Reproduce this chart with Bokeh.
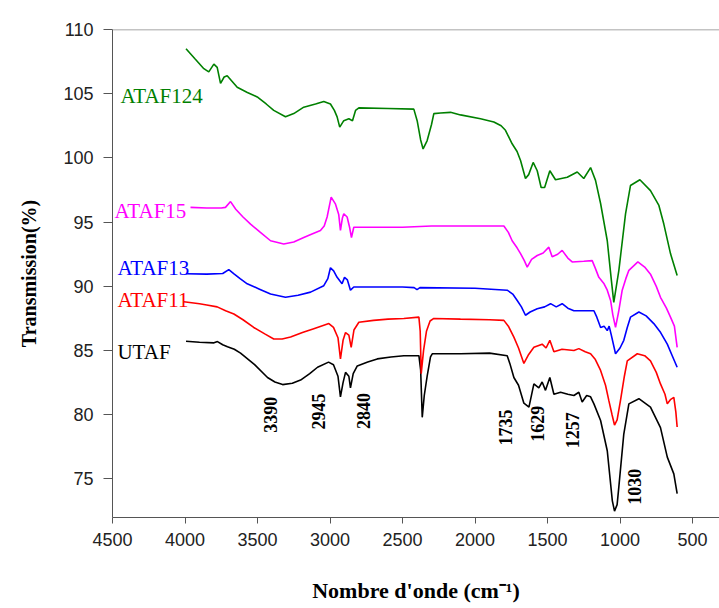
import numpy as np
from bokeh.plotting import figure
from bokeh.models import Range1d, Span, FixedTicker, ColumnDataSource
from bokeh.core.properties import value
from bokeh.embed import file_html
from bokeh.resources import INLINE

# ---- data (wavenumber cm-1, transmission %) ----
utaf = [(3993,85.73),(3900,85.65),(3800,85.6),(3776,85.7),(3740,85.45),(3707,85.3),(3660,85.1),(3617,84.8),
        (3520,83.9),(3431,82.9),(3380,82.55),(3327,82.35),(3260,82.45),(3203,82.7),(3140,83.2),(3086,83.7),
        (3010,84.1),(2976,83.9),(2945,83.0),(2928,81.4),(2910,82.5),(2893,83.3),(2870,83.0),(2859,82.1),
        (2840,83.2),(2812,83.8),(2740,84.1),(2674,84.35),(2580,84.5),(2491,84.6),(2387,84.6),(2375,83.5),
        (2364,79.8),(2350,81.5),(2330,83.0),(2307,84.5),(2295,84.75),(2100,84.75),(1900,84.8),(1778,84.6),
        (1760,84.0),(1732,82.9),(1700,82.3),(1663,80.9),(1628,80.6),(1594,82.4),(1560,82.1),(1537,82.55),
        (1514,81.9),(1484,82.9),(1456,81.6),(1410,81.75),(1360,81.6),(1318,81.5),(1284,81.75),(1261,81.0),
        (1230,81.5),(1203,81.4),(1180,80.85),(1134,79.55),(1088,77.2),(1053,73.3),(1038,72.5),(1020,73.0),
        (1008,74.4),(974,78.5),(939,80.85),(870,81.25),(790,80.6),(721,79.0),(674,76.7),(629,75.4),(606,73.85)]

ataf11 = [(4008,88.8),(3900,88.65),(3850,88.55),(3778,88.4),(3720,88.1),(3663,87.85),(3600,87.4),(3526,86.8),
          (3450,86.3),(3388,85.9),(3330,85.9),(3272,86.05),(3190,86.4),(3112,86.7),(3008,87.1),(2976,86.8),
          (2945,86.0),(2928,84.35),(2910,85.8),(2893,86.4),(2870,86.2),(2854,85.25),(2835,86.6),(2801,87.2),
          (2700,87.35),(2600,87.45),(2491,87.5),(2387,87.6),(2378,86.5),(2371,83.2),(2355,85.0),(2335,86.5),
          (2310,87.3),(2284,87.5),(2100,87.45),(1900,87.4),(1801,87.35),(1770,86.9),(1732,86.05),(1700,85.2),
          (1663,84.0),(1630,84.7),(1594,85.25),(1537,85.5),(1510,85.2),(1484,85.8),(1456,84.9),(1400,85.1),
          (1318,85.0),(1284,85.15),(1240,84.9),(1203,84.75),(1170,84.3),(1134,83.45),(1100,82.3),(1077,81.1),
          (1055,80.0),(1038,79.2),(1020,79.6),(997,81.1),(970,83.0),(950,84.2),(881,84.75),(830,84.6),
          (790,84.2),(750,83.3),(721,82.4),(690,81.6),(674,80.85),(650,81.2),(629,81.35),(615,80.2),(606,79.05)]

ataf13 = [(3993,90.98),(3850,90.95),(3740,91.0),(3698,91.3),(3660,90.95),(3620,90.6),(3571,90.2),(3490,89.8),
          (3410,89.4),(3307,89.15),(3220,89.3),(3134,89.55),(3043,90.05),(3015,90.6),(2997,91.45),(2975,91.2),
          (2951,90.7),(2917,90.2),(2900,90.7),(2880,90.5),(2859,89.7),(2836,89.95),(2500,89.95),(2420,89.9),
          (2400,89.75),(2380,89.9),(2000,89.85),(1778,89.7),(1740,89.4),(1709,88.9),(1680,88.4),(1652,87.75),
          (1620,88.0),(1571,88.25),(1520,88.4),(1479,88.65),(1440,88.4),(1399,88.65),(1360,88.3),(1318,88.1),
          (1180,88.1),(1160,87.6),(1134,86.8),(1110,86.9),(1088,86.55),(1075,86.9),(1060,86.2),(1031,84.75),
          (1000,85.2),(974,85.8),(950,86.8),(928,87.6),(870,88.0),(820,87.7),(767,87.1),(720,86.4),
          (674,85.5),(640,84.6),(606,83.7)]

ataf15 = [(3962,96.15),(3850,96.1),(3750,96.1),(3721,96.15),(3686,96.6),(3650,96.0),(3600,95.4),(3548,94.85),
          (3480,94.2),(3410,93.55),(3319,93.3),(3250,93.45),(3181,93.8),(3120,94.1),(3066,94.35),(3040,94.7),
          (3020,95.4),(2992,96.95),(2962,96.4),(2940,95.6),(2928,94.35),(2915,95.3),(2905,95.65),(2882,95.4),
          (2865,94.6),(2852,93.8),(2836,94.6),(2500,94.6),(2300,94.7),(2000,94.7),(1801,94.7),(1770,94.2),
          (1744,93.55),(1710,93.0),(1686,92.55),(1660,92.0),(1640,91.5),(1610,92.1),(1571,92.4),(1530,92.6),
          (1491,93.05),(1468,92.3),(1430,92.5),(1399,92.8),(1360,92.2),(1330,91.9),(1250,91.95),(1192,92.0),
          (1170,91.4),(1146,90.7),(1110,90.2),(1088,89.7),(1065,88.9),(1050,87.8),(1031,86.8),(1010,88.0),
          (985,89.7),(960,90.6),(939,91.25),(877,91.9),(830,91.5),(790,90.95),(750,90.0),(721,89.15),
          (680,88.3),(652,87.6),(625,86.9),(606,85.25)]

ataf124 = [(3993,108.5),(3930,107.7),(3870,106.95),(3836,106.7),(3801,107.3),(3778,107.05),(3755,105.8),
           (3730,106.3),(3709,106.4),(3640,105.5),(3570,105.1),(3502,104.75),(3440,104.2),(3388,103.7),
           (3307,103.2),(3250,103.45),(3181,103.95),(3100,104.2),(3043,104.4),(2997,104.2),(2970,103.7),
           (2951,103.2),(2933,102.4),(2905,102.9),(2870,103.05),(2845,102.9),(2824,103.7),(2801,103.9),
           (2600,103.85),(2422,103.8),(2399,102.9),(2375,101.4),(2358,100.7),(2330,101.35),(2300,102.6),
           (2284,103.45),(2238,103.5),(2169,103.55),(2100,103.35),(1962,103.05),(1870,102.8),(1820,102.5),
           (1790,102.15),(1744,101.1),(1710,100.5),(1686,99.8),(1652,98.4),(1630,98.7),(1599,99.65),
           (1571,99.0),(1544,97.7),(1520,97.7),(1484,99.0),(1445,98.3),(1364,98.5),(1295,98.9),(1250,98.4),
           (1203,99.25),(1169,98.25),(1134,96.45),(1088,93.55),(1060,90.5),(1043,88.75),(1008,91.25),
           (962,95.65),(928,97.85),(863,98.3),(790,97.45),(732,96.3),(698,94.85),(652,92.55),(606,90.85)]

series_names = ["UTAF", "ATAF11", "ATAF13", "ATAF15", "ATAF124"]
series_data = [utaf, ataf11, ataf13, ataf15, ataf124]
series_colors = ["#000000", "#FF0000", "#0000FF", "#FF00FF", "#008000"]
# label anchor (left, baseline) in data units
label_x = [4466, 4466, 4466, 4486, 4445]
label_y = [84.85, 88.9, 91.39, 95.9, 104.86]

peak_labels = ["3390", "2945", "2840", "1735", "1629", "1257", "1030"]
peak_x = [3410, 3079, 2769, 1790, 1569, 1327, 900]
peak_y = [80.0, 80.25, 80.3, 79.0, 79.3, 78.8, 74.4]

x_ticks = [4500, 4000, 3500, 3000, 2500, 2000, 1500, 1000, 500]
y_ticks = [75, 80, 85, 90, 95, 100, 105, 110]

p = figure(width=719, height=608, output_backend="svg", toolbar_location=None,
           x_range=Range1d(4500, 314), y_range=Range1d(72, 110),
           min_border_left=112, min_border_right=0, min_border_top=29, min_border_bottom=91)
p.outline_line_color = None
p.grid.visible = False
p.background_fill_color = "white"

for name, d, c in zip(series_names, series_data, series_colors):
    xs = [a for a, b in d]
    ys = [b for a, b in d]
    p.line(xs, ys, line_color=c, line_width=1.6)

lab_src = ColumnDataSource(dict(x=label_x, y=label_y, t=series_names, c=series_colors))
p.text(x="x", y="y", text="t", text_color="c", source=lab_src,
       text_font=value("Liberation Serif"), text_font_size="21px",
       text_align="left", text_baseline="alphabetic")

pk_src = ColumnDataSource(dict(x=peak_x, y=peak_y, t=peak_labels))
p.text(x="x", y="y", text="t", source=pk_src, angle=np.pi / 2,
       text_font=value("Liberation Serif"), text_font_size="18px", text_font_style="bold",
       text_color="black", text_align="center", text_baseline="middle")

p.add_layout(Span(location=110, dimension="width", line_color="#888888", line_width=1.5))

p.xaxis.ticker = FixedTicker(ticks=x_ticks)
p.yaxis.ticker = FixedTicker(ticks=y_ticks)
for ax in (p.xaxis, p.yaxis):
    ax.axis_line_color = "#555555"
    ax.major_tick_line_color = "#555555"
    ax.minor_tick_line_color = None
    ax.major_tick_in = 0
    ax.major_label_text_font = "Liberation Sans"
    ax.major_label_text_font_size = "18px"
    ax.major_label_text_color = "#222222"
    ax.axis_label_text_font = "Liberation Serif"
    ax.axis_label_text_font_style = "bold"
    ax.axis_label_text_color = "black"
p.xaxis.major_tick_out = 6
p.yaxis.major_tick_out = 9
p.xaxis.major_label_standoff = 9
p.yaxis.major_label_standoff = 10
p.xaxis.axis_label = "Nombre d'onde (cm\u207b\u00b9)"
p.yaxis.axis_label = "Transmission(%)"
p.xaxis.axis_label_text_font_size = "22px"
p.yaxis.axis_label_text_font_size = "20px"
p.xaxis.axis_label_standoff = 29
p.yaxis.axis_label_standoff = 20

open("out.html", "w").write(file_html(p, INLINE))
